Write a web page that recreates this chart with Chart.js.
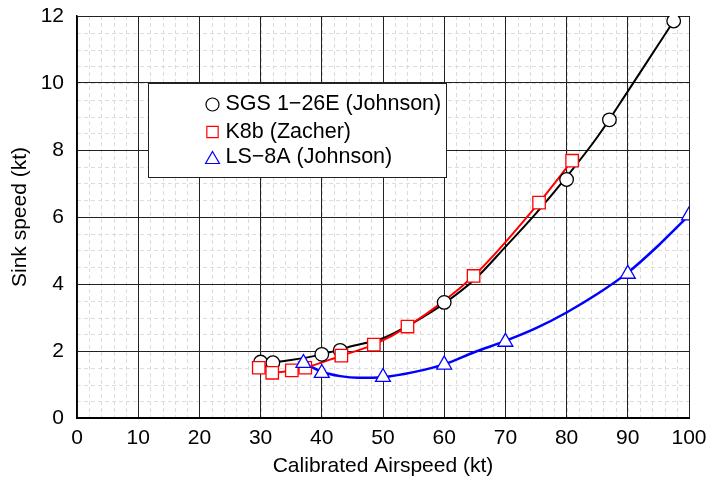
<!DOCTYPE html>
<html><head><meta charset="utf-8">
<script src="https://cdn.jsdelivr.net/npm/chart.js@4"></script>
<style>html,body{margin:0;padding:0;background:#fff}canvas{display:block}</style>
</head><body>
<canvas id="c" width="708" height="481"></canvas>
<script>
// ---- data ----
const seriesNames = ['SGS 1\u221226E (Johnson)', 'K8b (Zacher)', 'LS\u22128A (Johnson)'];
const sgsSpeed = [30, 32, 40, 43, 60, 80, 87, 97.5];
const sgsSink  = [1.67, 1.65, 1.9, 2.02, 3.45, 7.12, 8.9, 11.85];
const k8bSpeed = [29.7, 31.9, 35.1, 37.3, 43.2, 48.5, 54, 64.8, 75.5, 80.9];
const k8bSink  = [1.5, 1.35, 1.42, 1.5, 1.86, 2.19, 2.73, 4.24, 6.43, 7.68];
const ls8Speed = [37, 40, 50, 60, 70, 90, 100];
const ls8Sink  = [1.64, 1.34, 1.22, 1.59, 2.27, 4.3, 6.04];
// fitted curves as drawn in the reference
const sgsCurveSpeed = [30, 35, 40, 45, 50, 55, 60, 65, 70, 75, 80, 85, 90, 95, 97.5];
const sgsCurveSink  = [1.62, 1.73, 1.9, 2.15, 2.38, 2.85, 3.42, 4.14, 5.11, 6.11, 7.2, 8.38, 9.75, 11.15, 11.85];
const ls8CurveSpeed = [37, 40, 43, 46, 50, 55, 60, 65, 70, 75, 80, 85, 90, 95, 100];
const ls8CurveSink  = [1.65, 1.38, 1.25, 1.2, 1.22, 1.37, 1.6, 1.97, 2.3, 2.68, 3.15, 3.7, 4.34, 5.15, 6.05];
const xTickValues = [0, 10, 20, 30, 40, 50, 60, 70, 80, 90, 100];
const yTickValues = [0, 2, 4, 6, 8, 10, 12];
const xTitle = 'Calibrated Airspeed (kt)';
const yTitle = 'Sink speed (kt)';

const pts = (xs, ys) => xs.map((v, i) => ({x: v, y: ys[i]}));
const FONT = '"Liberation Sans", Arial, Helvetica, sans-serif';
const markerStyles = [
  {pointStyle: 'circle', color: '#000000', radius: 6.8},
  {pointStyle: 'rect', color: '#ff0000', radius: 8.8},
  {pointStyle: 'triangle', color: '#0000ff', radius: 8.6}
];

const minorGrid = {
  id: 'minorGrid',
  beforeDraw(chart) {
    const {ctx, chartArea: a, scales: {x, y}} = chart;
    ctx.save();
    ctx.fillStyle = '#fff';
    ctx.fillRect(0, 0, chart.width, chart.height);
    ctx.strokeStyle = '#dcdcdc';
    ctx.lineWidth = 1;
    ctx.setLineDash([4, 3]);
    for (let v = x.min; v <= x.max; v += 2) {
      const px = Math.round(x.getPixelForValue(v)) + 0.5;
      ctx.beginPath(); ctx.moveTo(px, a.top); ctx.lineTo(px, a.bottom); ctx.stroke();
    }
    for (let v = y.min; v <= y.max + 1e-9; v += 0.5) {
      const py = Math.round(y.getPixelForValue(v)) + 0.5;
      ctx.beginPath(); ctx.moveTo(a.left, py); ctx.lineTo(a.right, py); ctx.stroke();
    }
    ctx.restore();
  }
};

const boxLegend = {
  id: 'boxLegend',
  afterDraw(chart) {
    const {ctx, chartArea: a} = chart;
    const left = a.left + 71.5, top = a.top + 67.5, w = 298, h = 94;
    ctx.save();
    ctx.fillStyle = '#fff';
    ctx.fillRect(left, top, w, h);
    ctx.strokeStyle = '#222';
    ctx.lineWidth = 1;
    ctx.strokeRect(left, top, w, h);
    ctx.font = '21.5px ' + FONT;
    ctx.textBaseline = 'middle';
    ctx.textAlign = 'left';
    const rowY = [21, 48.5, 74];
    seriesNames.forEach((name, i) => {
      const m = markerStyles[i];
      ctx.strokeStyle = m.color;
      ctx.fillStyle = '#fff';
      ctx.lineWidth = 1.2;
      Chart.helpers.drawPoint(ctx, {pointStyle: m.pointStyle, radius: i === 0 ? 6.5 : 8, rotation: 0, borderWidth: 1.2}, left + 64, top + rowY[i] + (i === 2 ? 2 : 0));
      ctx.fillStyle = '#000';
      ctx.fillText(name, left + 77, top + rowY[i]);
    });
    ctx.restore();
  }
};

const markerDs = (label, data, m, order) => ({
  label, data, order,
  showLine: false,
  pointStyle: m.pointStyle,
  pointRadius: m.radius,
  pointBorderColor: m.color,
  pointBackgroundColor: '#ffffff',
  pointBorderWidth: 1.3,
  borderColor: m.color,
  backgroundColor: '#ffffff'
});
const lineDs = (label, data, color, width, order) => ({
  label, data, order,
  showLine: true,
  pointRadius: 0,
  borderColor: color,
  borderWidth: width,
  cubicInterpolationMode: 'monotone',
  fill: false
});

new Chart(document.getElementById('c'), {
  type: 'scatter',
  data: {
    datasets: [
      markerDs(seriesNames[2], pts(ls8Speed, ls8Sink), markerStyles[2], 0),
      markerDs(seriesNames[1], pts(k8bSpeed, k8bSink), markerStyles[1], 1),
      markerDs(seriesNames[0], pts(sgsSpeed, sgsSink), markerStyles[0], 2),
      lineDs(seriesNames[1] + ' curve', pts(k8bSpeed, k8bSink), '#ff0000', 2, 3),
      lineDs(seriesNames[0] + ' curve', pts(sgsCurveSpeed, sgsCurveSink), '#000000', 2, 4),
      lineDs(seriesNames[2] + ' curve', pts(ls8CurveSpeed, ls8CurveSink), '#0000ff', 2.5, 5)
    ]
  },
  options: {
    responsive: false,
    animation: false,
    layout: {padding: {top: 16, right: 19, left: 0, bottom: 0}},
    plugins: {legend: {display: false}, tooltip: {enabled: false}},
    scales: {
      x: {
        type: 'linear', min: 0, max: 100,
        afterBuildTicks: s => { s.ticks = xTickValues.map(v => ({value: v})); },
        afterFit: s => { s.height = 63; s.paddingLeft = 0; s.paddingRight = 0; },
        ticks: {color: '#000', font: {family: FONT, size: 21}, padding: 8, maxRotation: 0, autoSkip: false},
        grid: {color: '#222', lineWidth: 1, drawTicks: false},
        border: {color: '#000', width: 2},
        title: {display: true, text: xTitle, color: '#000', font: {family: FONT, size: 21}, padding: {top: 0, bottom: 2}}
      },
      y: {
        type: 'linear', min: 0, max: 12,
        afterBuildTicks: s => { s.ticks = yTickValues.map(v => ({value: v})); },
        afterFit: s => { s.width = 77; s.paddingTop = 0; s.paddingBottom = 0; },
        ticks: {color: '#000', font: {family: FONT, size: 21}, padding: 13, autoSkip: false},
        grid: {color: '#222', lineWidth: 1, drawTicks: false},
        border: {color: '#000', width: 1.5},
        title: {display: true, text: yTitle, color: '#000', font: {family: FONT, size: 21}, padding: {top: 8, bottom: 0}}
      }
    }
  },
  plugins: [minorGrid, boxLegend]
});
</script>
</body></html>
